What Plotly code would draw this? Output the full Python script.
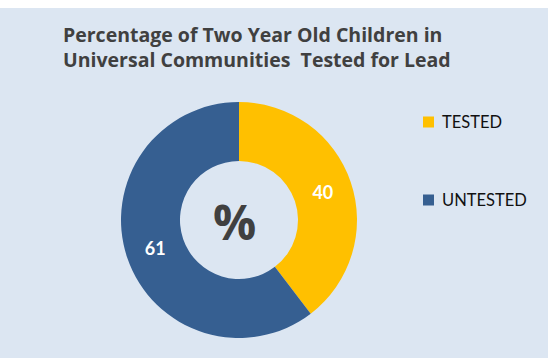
import plotly.graph_objects as go

# Data
labels = ["TESTED", "UNTESTED"]
values = [40, 61]
colors = ["#FFC000", "#365F91"]
title_lines = ["Percentage of Two Year Old Children in", "Universal Communities  Tested for Lead"]

W, H = 548, 358
BG = "#DCE6F2"


def px_x(x):
    return x / W


def px_y(y):
    return 1 - y / H


# Donut geometry (pixels)
cx, cy, R = 239, 220, 118

fig = go.Figure()
fig.add_trace(go.Pie(
    labels=labels,
    values=values,
    hole=0.5,
    sort=False,
    direction="clockwise",
    rotation=0,
    marker=dict(colors=colors, line=dict(width=0)),
    texttemplate="<b>%{value}</b>",
    textposition="inside",
    insidetextorientation="horizontal",
    textfont=dict(family="Lato", size=18, color="white"),
    domain=dict(x=[px_x(cx - R), px_x(cx + R)], y=[px_y(cy + R), px_y(cy - R)]),
    showlegend=False,
    hoverinfo="label+value",
))

shapes = [
    # white strip above the panel
    dict(type="rect", xref="paper", yref="paper", x0=0, x1=1, y0=px_y(8), y1=1,
         fillcolor="white", line=dict(width=0), layer="below"),
]
annotations = [
    dict(text="<b>" + "<br>".join(title_lines) + "</b>", x=px_x(61), y=px_y(46.5),
         xref="paper", yref="paper", xanchor="left", yanchor="middle", align="left",
         showarrow=False, font=dict(family="Open Sans", size=19.5, color="#404040")),
    dict(text="<b>%</b>", x=px_x(234), y=px_y(221), xref="paper", yref="paper",
         xanchor="center", yanchor="middle", showarrow=False,
         font=dict(family="Open Sans", size=48, color="#404040")),
]

# Legend entries
legend_y = [122, 200]
for lab, col, ly in zip(labels, colors, legend_y):
    shapes.append(dict(type="rect", xref="paper", yref="paper",
                       x0=px_x(423), x1=px_x(434), y0=px_y(ly + 5.5), y1=px_y(ly - 5.5),
                       fillcolor=col, line=dict(width=0)))
    annotations.append(dict(text=lab, x=px_x(440), y=px_y(ly), xref="paper", yref="paper",
                            xanchor="left", yanchor="middle", showarrow=False,
                            font=dict(family="Lato", size=16.5, color="#111111")))

fig.update_layout(
    width=W, height=H,
    margin=dict(l=0, r=0, t=0, b=0),
    paper_bgcolor=BG,
    plot_bgcolor=BG,
    shapes=shapes,
    annotations=annotations,
)

fig.write_html("out.html")
